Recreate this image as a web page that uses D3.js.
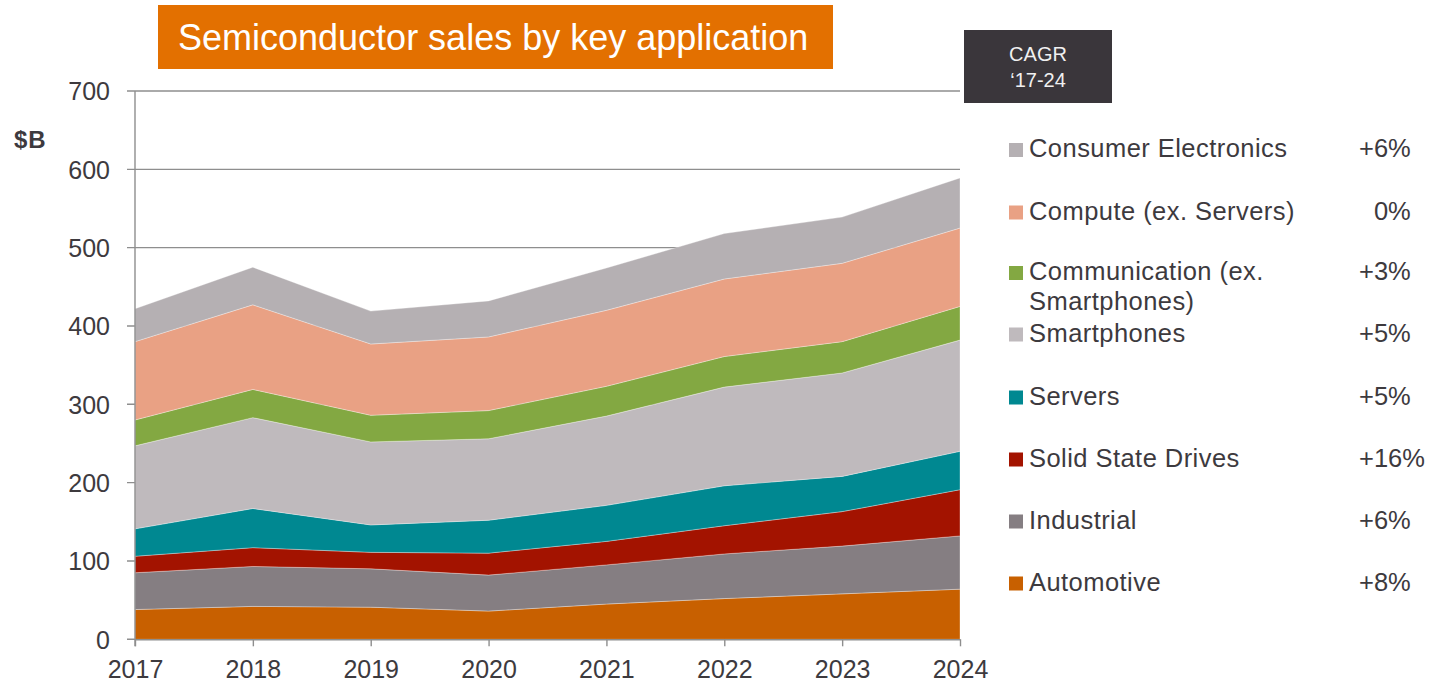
<!DOCTYPE html>
<html>
<head>
<meta charset="utf-8">
<script src="https://cdn.jsdelivr.net/npm/d3@7"></script>
<style>
  html, body { margin: 0; padding: 0; background: #ffffff; }
  svg { display: block; font-family: "Liberation Sans", Arial, sans-serif; }
</style>
</head>
<body>
<svg id="chart" width="1430" height="683"></svg>
<script>
// ---- data ----
const years = [2017, 2018, 2019, 2020, 2021, 2022, 2023, 2024];
const automotive    = [38, 42, 41, 36, 45, 52, 58, 64];
const industrial    = [47, 51, 49, 46, 50, 57, 61, 68];
const ssd           = [21, 24, 21, 28, 30, 36, 44, 59];
const servers       = [35, 50, 35, 42, 46, 51, 45, 49];
const smartphones   = [106, 116, 106, 104, 114, 126, 132, 142];
const communication = [33, 36, 34, 36, 38, 39, 40, 43];
const compute       = [100, 108, 91, 94, 97, 99, 100, 100];
const consumer      = [42, 48, 42, 46, 54, 58, 59, 64];

const seriesKeys   = ["Automotive", "Industrial", "Solid State Drives", "Servers", "Smartphones", "Communication", "Compute", "Consumer Electronics"];
const seriesValues = [automotive, industrial, ssd, servers, smartphones, communication, compute, consumer];
const seriesColors = ["#c86000", "#857e82", "#a31300", "#008891", "#bfbabd", "#83a842", "#e9a184", "#b5b0b3"];

// legend (top to bottom)
const legendLabels = [["Consumer Electronics"], ["Compute (ex. Servers)"], ["Communication (ex.", "Smartphones)"], ["Smartphones"], ["Servers"], ["Solid State Drives"], ["Industrial"], ["Automotive"]];
const legendCagr   = ["+6%", "0%", "+3%", "+5%", "+5%", "+16%", "+6%", "+8%"];
const legendColors = ["#b5b0b3", "#e9a184", "#83a842", "#bfbabd", "#008891", "#a31300", "#857e82", "#c86000"];

const yTicks = [0, 100, 200, 300, 400, 500, 600, 700];
const titleText = "Semiconductor sales by key application";
const unitLabel = "$B";
const cagrHeader = ["CAGR", "\u201817-24"];

// ---- layout ----
const svg = d3.select("#chart");
const textColor = "#3d3a3e";
const gridColor = "#8e8e8e";

const x = d3.scaleLinear().domain([2017, 2024]).range([135, 960]);
const y = d3.scaleLinear().domain([0, 700]).range([639.3, 91]);

const table = years.map((yr, i) => {
  const row = { year: yr };
  seriesKeys.forEach((k, j) => row[k] = seriesValues[j][i]);
  return row;
});
const stacked = d3.stack().keys(seriesKeys)(table);

// gridlines
svg.append("g").selectAll("line").data(yTicks).join("line")
  .attr("x1", 127).attr("x2", 960)
  .attr("y1", d => y(d)).attr("y2", d => y(d))
  .attr("stroke", gridColor).attr("stroke-width", 1.4);

// areas
const area = d3.area()
  .x(d => x(d.data.year))
  .y0(d => y(d[0]))
  .y1(d => y(d[1]));

svg.append("g").selectAll("path").data(stacked).join("path")
  .attr("d", area)
  .attr("fill", (d, i) => seriesColors[i])
  .attr("stroke", "#ffffff").attr("stroke-opacity", 0.45).attr("stroke-width", 0.7);

// y axis line
svg.append("line")
  .attr("x1", 135).attr("x2", 135).attr("y1", y(700)).attr("y2", y(0) + 7)
  .attr("stroke", gridColor).attr("stroke-width", 1.4);
// x axis
const xAxis = d3.axisBottom(x).tickValues(years).tickFormat(d3.format("d")).tickSize(7).tickSizeOuter(0);
const gx = svg.append("g").attr("transform", `translate(0,${y(0)})`).call(xAxis);
gx.select(".domain").attr("stroke", gridColor).attr("stroke-width", 1.4);
gx.selectAll(".tick line").attr("stroke", gridColor).attr("stroke-width", 1.4);
gx.selectAll(".tick text").attr("fill", textColor).attr("font-size", 25)
  .attr("font-family", "Liberation Sans, Arial, sans-serif").attr("y", 20.5).attr("dy", "0.71em");

// y tick labels
const yAxis = d3.axisLeft(y).tickValues(yTicks).tickSize(0).tickPadding(0);
const gy = svg.append("g").attr("transform", "translate(110,0)").call(yAxis);
gy.select(".domain").remove();
gy.selectAll(".tick text").attr("fill", textColor).attr("font-size", 25)
  .attr("font-family", "Liberation Sans, Arial, sans-serif").attr("dy", "0.35em");

// $B
svg.append("text").attr("x", 14).attr("y", 148).text(unitLabel)
  .attr("font-size", 24).attr("font-weight", "bold").attr("letter-spacing", 1).attr("fill", textColor);

// title
svg.append("rect").attr("x", 158).attr("y", 5).attr("width", 675).attr("height", 64).attr("fill", "#e37000");
svg.append("text").attr("x", 178).attr("y", 50).text(titleText)
  .attr("font-size", 36).attr("fill", "#ffffff");

// CAGR box
svg.append("rect").attr("x", 964).attr("y", 30).attr("width", 148).attr("height", 73).attr("fill", "#3a363b");
svg.append("g").selectAll("text").data(cagrHeader).join("text")
  .attr("x", 1038).attr("y", (d, i) => 61 + i * 26).attr("text-anchor", "middle")
  .attr("font-size", 20).attr("fill", "#f0f0f0").text(d => d);

// legend
const rowY = [157, 219.5, 280, 341.5, 404.5, 466.5, 528.5, 590.5];
const lg = svg.append("g");
legendLabels.forEach((lines, i) => {
  lg.append("rect").attr("x", 1009).attr("y", rowY[i] - 14).attr("width", 14).attr("height", 14).attr("fill", legendColors[i]);
  lines.forEach((t, k) => {
    lg.append("text").attr("x", 1029).attr("y", rowY[i] + k * 30).text(t)
      .attr("font-size", 25.5).attr("letter-spacing", 0.45).attr("fill", textColor);
  });
  const v = legendCagr[i];
  const tEl = lg.append("text").attr("x", 1359).attr("y", rowY[i]).text(v)
    .attr("font-size", 25.5).attr("fill", textColor);
  if (!/^[+-]/.test(v)) {
    const probe = lg.append("text").attr("font-size", 25.5).text("+");
    const w = probe.node().getComputedTextLength();
    probe.remove();
    tEl.attr("x", 1359 + w);
  }
});
</script>
</body>
</html>
